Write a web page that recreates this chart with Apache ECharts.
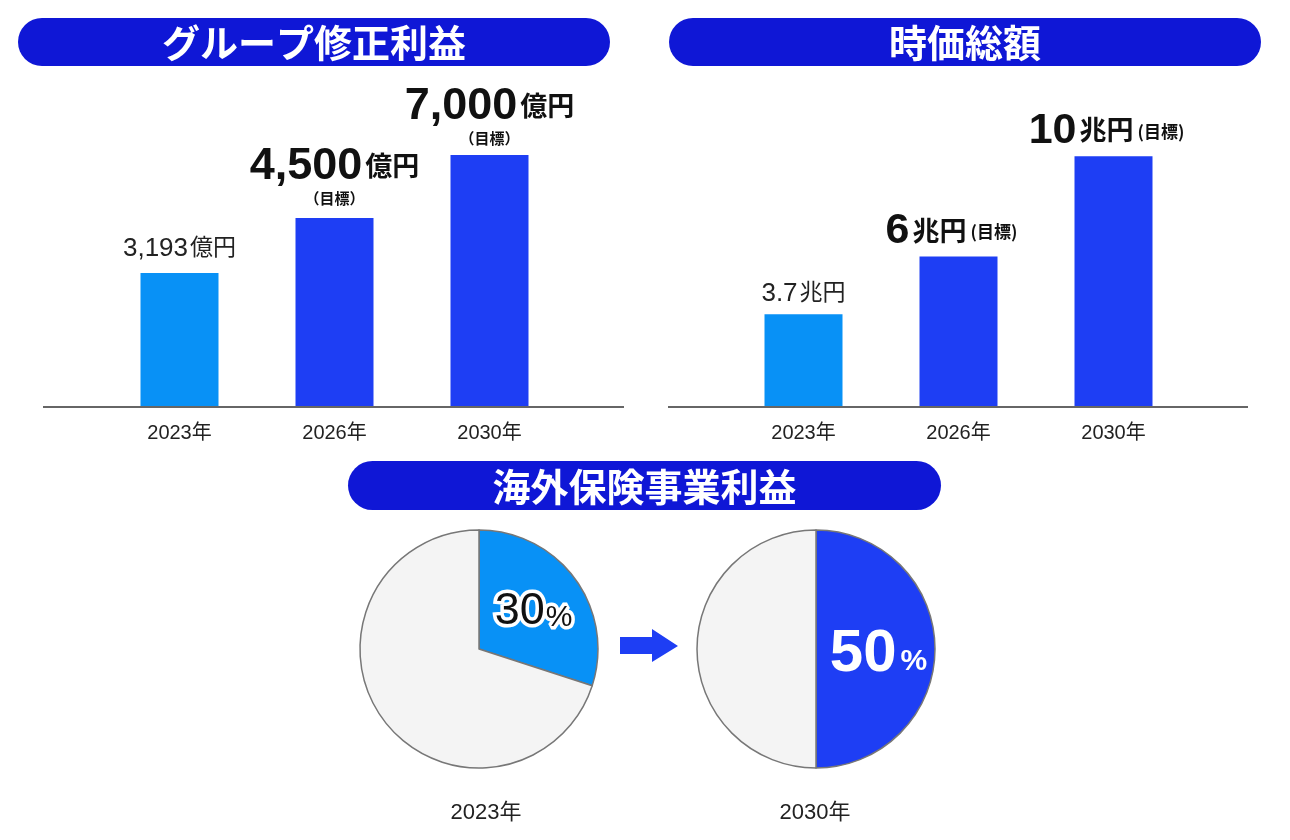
<!DOCTYPE html>
<html>
<head>
<meta charset="utf-8">
<script src="https://cdn.jsdelivr.net/npm/echarts@6/dist/echarts.min.js"></script>
<style>
  html, body { margin: 0; padding: 0; background: #fff; }
  #chart { width: 1290px; height: 840px; }
</style>
</head>
<body>
<div id="chart"></div>
<script>
// data
const barYears = ['2023年', '2026年', '2030年'];
// group profit: bar heights as drawn (the 2030 bar is drawn at about 6,000)
const profitValues = [3193, 4500, 6000];
const profitLabels = ['3,193', '4,500', '7,000'];
const capValues = [3.7, 6, 10];
const capLabels = ['3.7', '6', '10'];
const pieYears = ['2023年', '2030年'];
const overseasShare = [30, 50];

const PILL = '#0f17d6';
const LIGHT = '#0891f6';
const DARK = '#1e3ef4';
const FONT = "'Liberation Sans', 'Noto Sans CJK JP', sans-serif";
const CJK = "'Noto Sans CJK JP', sans-serif";

const chart = echarts.init(document.getElementById('chart'));

function pill(x, y, w, h, text) {
  return {
    type: 'group',
    children: [
      { type: 'rect', shape: { x: x, y: y, width: w, height: h, r: h / 2 }, style: { fill: PILL } },
      {
        type: 'text', x: x + w / 2, y: y + h / 2 + 1,
        style: { text: text, fill: '#fff', font: 'bold 38px ' + CJK, align: 'center', verticalAlign: 'middle' }
      }
    ]
  };
}

const rich = {
  big: { fontFamily: FONT, fontWeight: 'bold', fontSize: 45, color: '#111', lineHeight: 42 },
  bigR: { fontFamily: FONT, fontWeight: 'bold', fontSize: 43, color: '#111', lineHeight: 42 },
  unit: { fontFamily: CJK, fontWeight: 'bold', fontSize: 27, color: '#111', lineHeight: 42, padding: [0, 0, 2, 3] },
  tgt: { fontFamily: CJK, fontWeight: 'bold', fontSize: 15, color: '#111', lineHeight: 20 },
  tgtSide: { fontFamily: CJK, fontWeight: 'bold', fontSize: 17, color: '#111', lineHeight: 42, padding: [0, 0, 0, 4] },
  small: { fontFamily: FONT, fontSize: 26, color: '#222', lineHeight: 28 },
  smallUnit: { fontFamily: CJK, fontSize: 23, color: '#222', lineHeight: 28, padding: [0, 0, 5, 2] }
};

const profitData = profitValues.map(function (v, i) {
  const fmt = i === 0
    ? '{small|' + profitLabels[i] + '}{smallUnit|億円}'
    : '{big|' + profitLabels[i] + '}{unit|億円}\n{tgt|（目標）}';
  const label = { formatter: fmt };
  if (i === 2) label.offset = [0, 3];
  return { value: v, itemStyle: { color: i === 0 ? LIGHT : DARK }, label: label };
});

const capData = capValues.map(function (v, i) {
  const fmt = i === 0
    ? '{small|' + capLabels[i] + '}{smallUnit|兆円}'
    : '{bigR|' + capLabels[i] + '}{unit|兆円}{tgtSide|(目標)}';
  const label = { formatter: fmt };
  if (i > 0) label.offset = [-7, 2];
  return { value: v, itemStyle: { color: i === 0 ? LIGHT : DARK }, label: label };
});

function pieData(share, color, labelStyle) {
  return [
    { value: share, name: 'overseas', itemStyle: { color: color }, label: labelStyle },
    { value: 100 - share, name: 'other', itemStyle: { color: '#f4f4f4' }, label: { show: false } }
  ];
}

const option = {
  animation: false,
  title: [
    { text: pieYears[0], left: 481, top: 797, textAlign: 'center',
      textStyle: { fontFamily: FONT, fontSize: 22, fontWeight: 'normal', color: '#222' } },
    { text: pieYears[1], left: 810, top: 797, textAlign: 'center',
      textStyle: { fontFamily: FONT, fontSize: 22, fontWeight: 'normal', color: '#222' } }
  ],
  grid: [
    { left: 102, width: 465, top: 92, bottom: 433 },
    { left: 726, width: 465, top: 106, bottom: 433 }
  ],
  xAxis: [
    { type: 'category', gridIndex: 0, data: barYears, axisLine: { show: false }, axisTick: { show: false },
      axisLabel: { fontFamily: FONT, fontSize: 20, color: '#222', margin: 16 } },
    { type: 'category', gridIndex: 1, data: barYears, axisLine: { show: false }, axisTick: { show: false },
      axisLabel: { fontFamily: FONT, fontSize: 20, color: '#222', margin: 16 } }
  ],
  yAxis: [
    { type: 'value', gridIndex: 0, min: 0, max: 7500, show: false, splitLine: { show: false } },
    { type: 'value', gridIndex: 1, min: 0, max: 12, show: false, splitLine: { show: false } }
  ],
  series: [
    {
      type: 'bar', xAxisIndex: 0, yAxisIndex: 0, barWidth: 78, data: profitData,
      label: { show: true, position: 'top', distance: 10, rich: rich }
    },
    {
      type: 'bar', xAxisIndex: 1, yAxisIndex: 1, barWidth: 78, data: capData,
      label: { show: true, position: 'top', distance: 6, rich: rich }
    },
    {
      type: 'pie', center: [479, 649], radius: 119, startAngle: 90, clockwise: true,
      silent: true, labelLine: { show: false },
      itemStyle: { borderColor: '#777', borderWidth: 1.5 },
      data: pieData(overseasShare[0], LIGHT, {
        show: true, position: 'inside', padding: [0, 0, 0, 8],
        formatter: '{n|' + overseasShare[0] + '}{p|%}',
        rich: {
          n: { fontFamily: FONT, fontSize: 45, color: '#111', textBorderColor: '#fff', textBorderWidth: 7,
            lineHeight: 44, verticalAlign: 'bottom' },
          p: { fontFamily: FONT, fontSize: 30, color: '#111', textBorderColor: '#fff', textBorderWidth: 7,
            lineHeight: 44, verticalAlign: 'bottom', padding: [0, 0, 2, 1] }
        }
      })
    },
    {
      type: 'pie', center: [816, 649], radius: 119, startAngle: 90, clockwise: true,
      silent: true, labelLine: { show: false },
      itemStyle: { borderColor: '#777', borderWidth: 1.5 },
      data: pieData(overseasShare[1], DARK, {
        show: true, position: 'inside', padding: [14, 0, 0, 0],
        formatter: '{n|' + overseasShare[1] + '}{p|%}',
        rich: {
          n: { fontFamily: FONT, fontWeight: 'bold', fontSize: 60, color: '#fff', lineHeight: 56, verticalAlign: 'bottom' },
          p: { fontFamily: FONT, fontWeight: 'bold', fontSize: 30, color: '#fff', lineHeight: 56, verticalAlign: 'bottom',
            padding: [0, 0, 7, 4] }
        }
      })
    }
  ],
  graphic: [
    pill(18, 18, 592, 48, 'グループ修正利益'),
    pill(669, 18, 592, 48, '時価総額'),
    pill(348, 461, 593, 49, '海外保険事業利益'),
    { type: 'line', shape: { x1: 43, y1: 407, x2: 624, y2: 407 }, style: { stroke: '#666', lineWidth: 2 }, z: 10 },
    { type: 'line', shape: { x1: 668, y1: 407, x2: 1248, y2: 407 }, style: { stroke: '#666', lineWidth: 2 }, z: 10 },
    {
      type: 'polygon',
      shape: { points: [[620, 637], [652, 637], [652, 629], [678, 646], [652, 662], [652, 654], [620, 654]] },
      style: { fill: DARK }
    }
  ]
};

chart.setOption(option);
</script>
</body>
</html>
